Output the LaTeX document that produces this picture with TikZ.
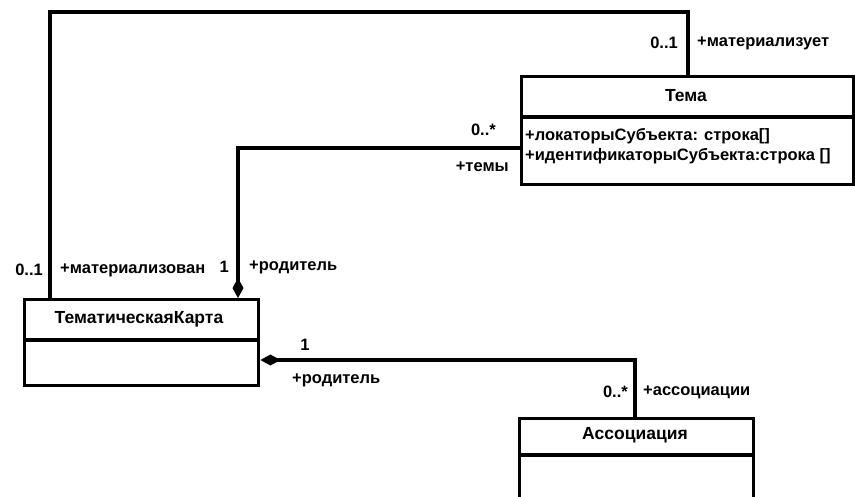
\documentclass[tikz,border=0pt]{standalone}
\usepackage{fontspec}
\setmainfont{Liberation Sans}
\usetikzlibrary{arrows.meta}
\begin{document}
\begin{tikzpicture}[x=1pt,y=-1pt,
  cls/.style={draw, line width=3.4pt, anchor=north west, inner sep=0pt},
  conn/.style={line width=3.2pt},
  lbl/.style={font=\fontsize{16.5}{18}\selectfont\bfseries, inner sep=0pt},
  title/.style={font=\fontsize{17.5}{19}\selectfont\bfseries, inner sep=0pt},
  attr/.style={font=\fontsize{16.5}{18}\selectfont\bfseries, inner sep=0pt, anchor=west},
  dia/.style={-{Diamond[length=20pt,width=11pt,fill=black]}}]
\fill[white] (0,0) rectangle (855,496);
\clip (0,0) rectangle (855,496);
% class boxes
\node[cls, minimum width=332pt, minimum height=108pt] (tema) at (520,75) {};
\draw[line width=3.4pt] (520,117) -- (852,117);
\node[title] (temaT) at (686,96) {Тема};
\node[attr] (a1) at (525,136) {+локаторыСубъекта: строка[]};
\node[attr] (a2) at (525,156) {+идентификаторыСубъекта:строка []};

\node[cls, minimum width=234pt, minimum height=86pt] (tk) at (23,298) {};
\draw[line width=3.4pt] (23,340) -- (257,340);
\node[title] (tkT) at (139,319) {ТематическаяКарта};

\node[cls, minimum width=234pt, minimum height=120pt] (as) at (518,417) {};
\draw[line width=3.4pt] (518,455) -- (752,455);
\node[title] (asT) at (635,435) {Ассоциация};

% connectors
\coordinate (top) at (0,12);
\coordinate (ytema) at (0,148);
\coordinate (xtema) at (238,0);
\coordinate (yas) at (0,360);
\coordinate (xas) at (635,0);
\coordinate (tkA) at ([xshift=27pt]tk.north west);
\coordinate (temaA) at ([xshift=168pt]tema.north west);
\draw[conn] (tkA) -- (tkA |- top) -| (temaA);
\draw[conn, dia] (tema.west |- ytema) -| (tk.north -| xtema);
\draw[conn, dia] (as.north -| xas) |- (tk.east |- yas);

% labels
\node[lbl, anchor=east] (m1) at (678,43) {0..1};
\node[lbl, anchor=west] (m2) at (697,43) {+материализует};
\node[lbl, anchor=east] (m3) at (496,130) {0..*};
\node[lbl, anchor=east] (m4) at (509,167) {+темы};
\node[lbl, anchor=east] (m5) at (229,267) {1};
\node[lbl, anchor=west] (m6) at (249,267) {+родитель};
\node[lbl, anchor=east] (m7) at (43,270) {0..1};
\node[lbl, anchor=west] (m8) at (60,270) {+материализован};
\node[lbl] (m9) at (305,345) {1};
\node[lbl, anchor=west] (m10) at (292,380) {+родитель};
\node[lbl, anchor=east] (m11) at (628,392) {0..*};
\node[lbl, anchor=west] (m12) at (643,392) {+ассоциации};
\end{tikzpicture}
\end{document}
